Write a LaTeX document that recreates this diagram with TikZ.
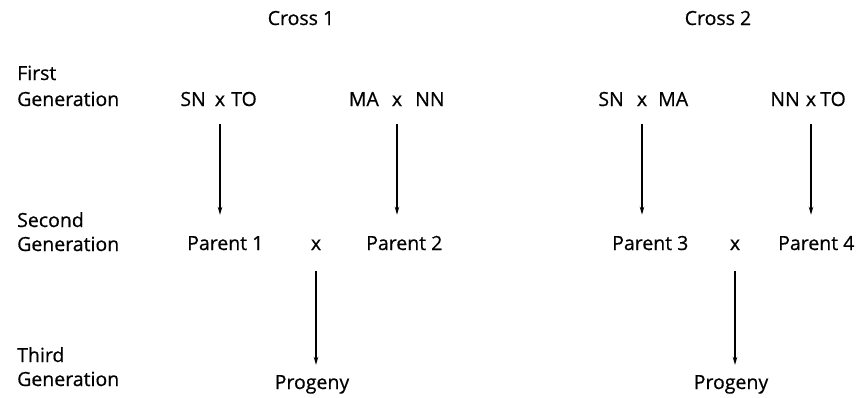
\documentclass[tikz,border=0pt]{standalone}
\usepackage{fontspec}
\setmainfont{Open Sans}[FakeBold=0.6]
\usetikzlibrary{arrows.meta}
\begin{document}
\begin{tikzpicture}[x=1pt,y=-1pt,
  lbl/.style={inner sep=0pt,anchor=base west,font=\fontsize{19.5}{24}\selectfont},
  txt/.style={inner sep=0pt,font=\fontsize{19.5}{24}\selectfont},
  arr/.style={line width=1.3pt,-{Stealth[length=8pt,width=4.5pt]}}]
\useasboundingbox (0,0) rectangle (864,397);
% titles
\node[txt,anchor=base] (cross1) at (301,25) {Cross 1};
\node[txt,anchor=base] (cross2) at (718,25) {Cross 2};
% generation labels
\node[lbl] (first) at (17,80) {First};
\node[lbl] (gen1) at (17,106) {Generation};
\node[lbl] (second) at (17,227) {Second};
\node[lbl] (gen2) at (17,251) {Generation};
\node[lbl] (third) at (17,362) {Third};
\node[lbl] (gen3) at (17,386) {Generation};
% first generation crosses
\node[txt,anchor=base] (xa) at (220,106) {x};
\node[txt,anchor=base east] (sna) at (206,106) {SN};
\node[txt,anchor=base west] (toa) at (231,106) {TO};
\node[txt,anchor=base] (xb) at (397,106) {x};
\node[txt,anchor=base east] (mab) at (379,106) {MA};
\node[txt,anchor=base west] (nnb) at (415,106) {NN};
\node[txt,anchor=base] (xc) at (642,106) {x};
\node[txt,anchor=base east] (snc) at (624,106) {SN};
\node[txt,anchor=base west] (mac) at (658,106) {MA};
\node[txt,anchor=base] (xd) at (811,106) {x};
\node[txt,anchor=base east] (nnd) at (800,106) {NN};
\node[txt,anchor=base west] (tod) at (820,106) {TO};
% second generation
\node[txt,anchor=base west] (p1) at (187,250) {Parent 1};
\node[txt,anchor=base] (x1) at (316,250) {x};
\node[txt,anchor=base west] (p2) at (366,250) {Parent 2};
\node[txt,anchor=base west] (p3) at (612,250) {Parent 3};
\node[txt,anchor=base] (x2) at (735,250) {x};
\node[txt,anchor=base west] (p4) at (778,250) {Parent 4};
% third generation
\node[txt,anchor=base] (prog1) at (312,389) {Progeny};
\node[txt,anchor=base] (prog2) at (731,389) {Progeny};
% arrows
\draw[arr,shorten <=18pt,shorten >=21pt] (xa.south) -- (xa.south |- p1.north);
\draw[arr,shorten <=18pt,shorten >=21pt] (xb.south) -- (xb.south |- p2.north);
\draw[arr,shorten <=18pt,shorten >=21pt] (xc.south) -- (xc.south |- p3.north);
\draw[arr,shorten <=18pt,shorten >=21pt] (xd.south) -- (xd.south |- p4.north);
\draw[arr,shorten <=21pt,shorten >=10pt] (x1.south) -- (x1.south |- prog1.north);
\draw[arr,shorten <=21pt,shorten >=10pt] (x2.south) -- (x2.south |- prog2.north);
\end{tikzpicture}
\end{document}
